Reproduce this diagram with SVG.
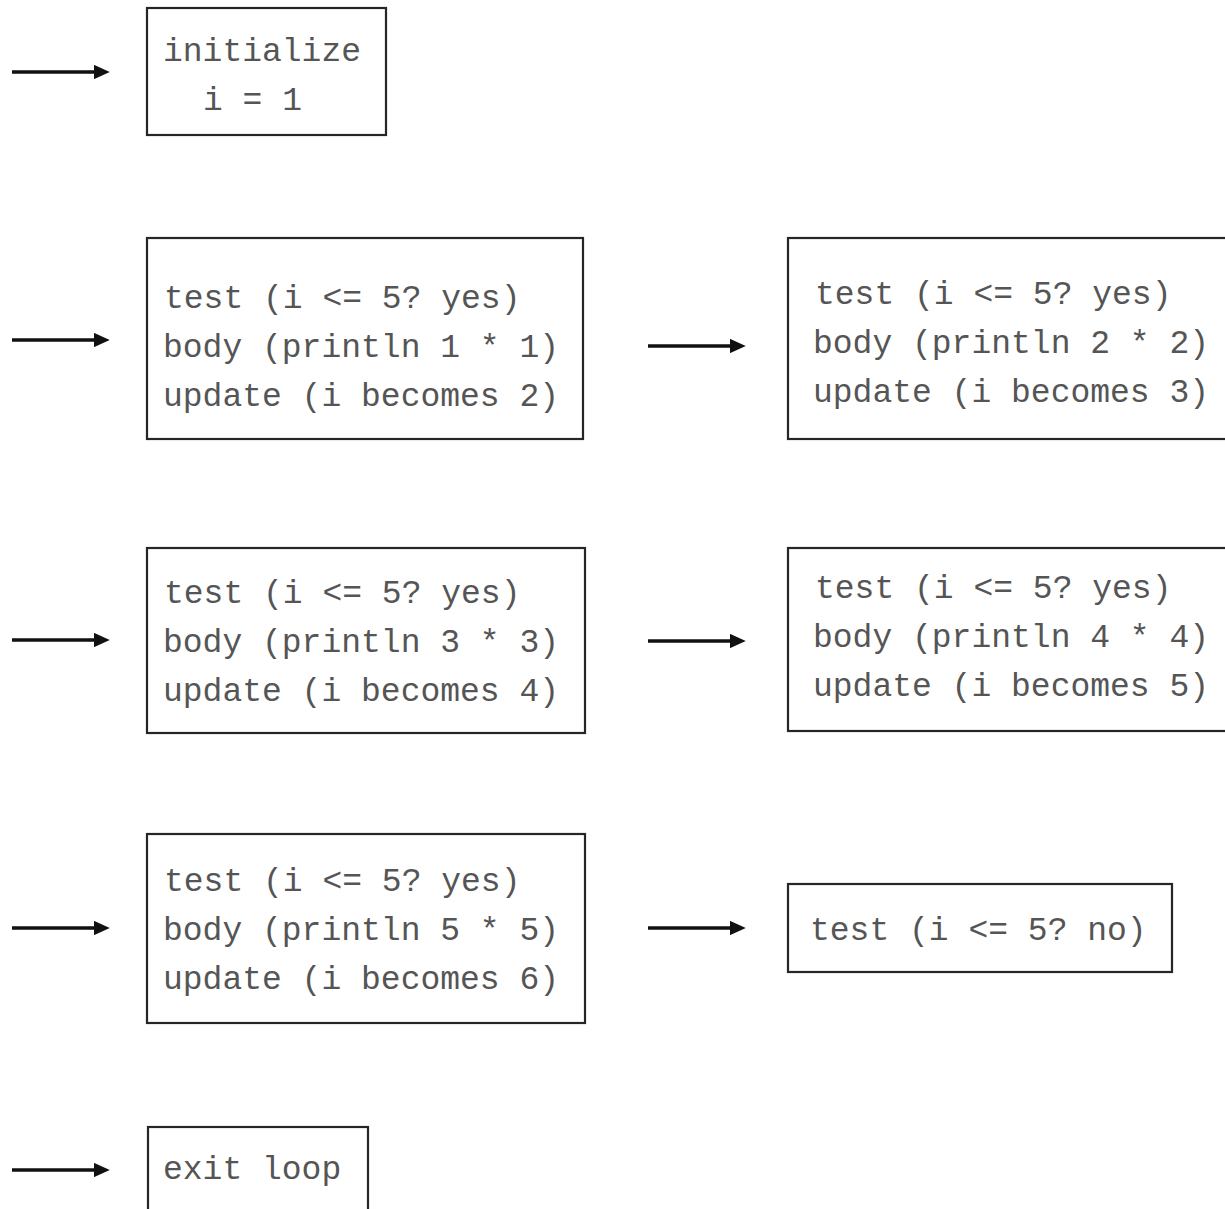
<svg xmlns="http://www.w3.org/2000/svg" width="1225" height="1209" viewBox="0 0 1225 1209">
<style>
.box{fill:#fff;stroke:#262626;stroke-width:2.2}
.t{font-family:"Liberation Mono","Courier New",monospace;font-size:33px;fill:#555}
.c{stroke:#111;stroke-width:3.6;fill:none}
</style>
<defs>
<marker id="ah" markerWidth="4.4" markerHeight="4" refX="0.3" refY="2" orient="auto" markerUnits="strokeWidth" viewBox="0 0 4.4 4">
<path d="M0,0 L4.4,2 L0,4 Z" fill="#111"/>
</marker>
</defs>
<rect width="1225" height="1209" fill="#fff"/>
<g id="connectors">
<line class="c" x1="12" y1="72" x2="95" y2="72" marker-end="url(#ah)"/>
<line class="c" x1="12" y1="340" x2="95" y2="340" marker-end="url(#ah)"/>
<line class="c" x1="648" y1="346" x2="731" y2="346" marker-end="url(#ah)"/>
<line class="c" x1="12" y1="640" x2="95" y2="640" marker-end="url(#ah)"/>
<line class="c" x1="648" y1="641" x2="731" y2="641" marker-end="url(#ah)"/>
<line class="c" x1="12" y1="928" x2="95" y2="928" marker-end="url(#ah)"/>
<line class="c" x1="648" y1="928" x2="731" y2="928" marker-end="url(#ah)"/>
<line class="c" x1="12" y1="1170" x2="95" y2="1170" marker-end="url(#ah)"/>
</g>
<g id="init">
<rect class="box" x="147" y="8" width="239" height="127"/>
<text class="t" x="163" y="61">initialize</text>
<text class="t" x="203" y="110">i = 1</text>
</g>
<g id="iter1">
<rect class="box" x="147" y="238" width="436" height="201"/>
<text class="t" x="164" y="308">test (i &lt;= 5? yes)</text>
<text class="t" x="163" y="357">body (println 1 * 1)</text>
<text class="t" x="163" y="406">update (i becomes 2)</text>
</g>
<g id="iter2">
<rect class="box" x="788" y="238" width="445" height="201"/>
<text class="t" x="815" y="304">test (i &lt;= 5? yes)</text>
<text class="t" x="813" y="353">body (println 2 * 2)</text>
<text class="t" x="813" y="402">update (i becomes 3)</text>
</g>
<g id="iter3">
<rect class="box" x="147" y="548" width="438" height="185"/>
<text class="t" x="164" y="603">test (i &lt;= 5? yes)</text>
<text class="t" x="163" y="652">body (println 3 * 3)</text>
<text class="t" x="163" y="701">update (i becomes 4)</text>
</g>
<g id="iter4">
<rect class="box" x="788" y="548" width="445" height="183"/>
<text class="t" x="815" y="598">test (i &lt;= 5? yes)</text>
<text class="t" x="813" y="647">body (println 4 * 4)</text>
<text class="t" x="813" y="696">update (i becomes 5)</text>
</g>
<g id="iter5">
<rect class="box" x="147" y="834" width="438" height="189"/>
<text class="t" x="164" y="891">test (i &lt;= 5? yes)</text>
<text class="t" x="163" y="940">body (println 5 * 5)</text>
<text class="t" x="163" y="989">update (i becomes 6)</text>
</g>
<g id="final-test">
<rect class="box" x="788" y="884" width="384" height="88"/>
<text class="t" x="810" y="940">test (i &lt;= 5? no)</text>
</g>
<g id="exit">
<rect class="box" x="148" y="1127" width="220" height="100"/>
<text class="t" x="163" y="1179">exit loop</text>
</g>
</svg>
